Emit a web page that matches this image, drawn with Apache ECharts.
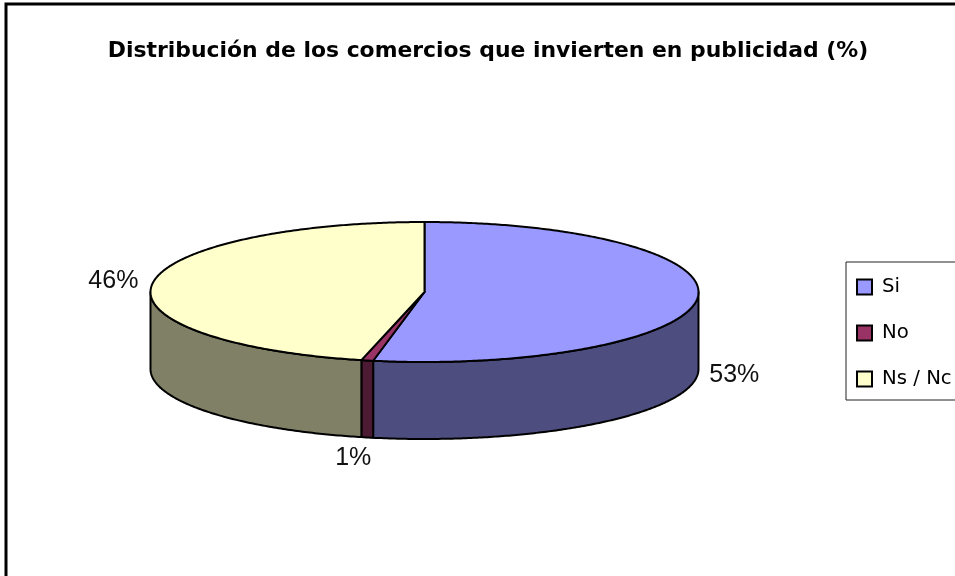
<!DOCTYPE html>
<html><head><meta charset="utf-8">
<style>html,body{margin:0;padding:0;background:#fff}#c{width:955px;height:576px}</style>
<script src="https://cdn.jsdelivr.net/npm/echarts@6/dist/echarts.min.js"></script>
</head><body><div id="c"></div>
<script>
const categories = ['Si', 'No', 'Ns / Nc'];
const values = [53.0, 0.7, 46.3];
const titleText = 'Distribución de los comercios que invierten en publicidad (%)';
const topColors = ['#9999FF', '#993366', '#FFFFCC'];
const wallColors = ['#4D4D80', '#4D1A33', '#808066'];
const labelOffsets = [[37, 0], [-14, 21], [-39, -3]];
const pie = { cx: 424.5, cy: 292, rx: 274, ry: 70, depth: 77 };
const total = values.reduce((a, b) => a + b, 0);

function pt(theta, dy) {
  return [pie.cx + pie.rx * Math.sin(theta), pie.cy - pie.ry * Math.cos(theta) + (dy || 0)];
}
function arc(a, b, dy) {
  const n = Math.max(2, Math.ceil(Math.abs(b - a) / 0.01));
  const out = [];
  for (let i = 0; i <= n; i++) out.push(pt(a + (b - a) * i / n, dy));
  return out;
}
function renderer(index) {
  return function (params, api) {
    const before = values.slice(0, index).reduce((a, b) => a + b, 0);
    const start = before / total * 2 * Math.PI;
    const end = (before + api.value(0)) / total * 2 * Math.PI;
    const children = [];
    const a = Math.max(start, Math.PI / 2), b = Math.min(end, 3 * Math.PI / 2);
    if (b > a) {
      children.push({
        type: 'polygon',
        shape: { points: arc(a, b, 0).concat(arc(b, a, pie.depth)) },
        style: { fill: wallColors[index], stroke: '#000', lineWidth: 2, lineJoin: 'round' }
      });
    }
    children.push({
      type: 'polygon',
      shape: { points: [[pie.cx, pie.cy]].concat(arc(start, end, 0)) },
      style: { fill: topColors[index], stroke: '#000', lineWidth: 2, lineJoin: 'round' }
    });
    const mid = (start + end) / 2;
    const anchor = pt(mid, index === 2 ? 0 : pie.depth);
    children.push({
      type: 'text',
      style: {
        text: Math.round(api.value(0)) + '%',
        x: anchor[0] + labelOffsets[index][0],
        y: anchor[1] + labelOffsets[index][1],
        align: 'center', verticalAlign: 'middle',
        font: '25px "Liberation Sans"', fill: '#111'
      }
    });
    return { type: 'group', children };
  };
}
const chart = echarts.init(document.getElementById('c'), null, { renderer: 'canvas' });
chart.setOption({
  animation: false,
  backgroundColor: '#fff',
  title: {
    text: titleText, left: 483, top: 35, textAlign: 'center',
    textStyle: { fontFamily: 'DejaVu Sans', fontWeight: 'bold', fontSize: 21.9, color: '#000' }
  },
  legend: {
    orient: 'vertical', left: 846, top: 262,
    data: categories,
    icon: 'rect', itemWidth: 15, itemHeight: 15, itemGap: 26,
    padding: [15, 20, 11, 10],
    borderColor: '#222', borderWidth: 1,
    selectedMode: false,
    itemStyle: { borderColor: '#000', borderWidth: 2 },
    textStyle: { fontFamily: 'DejaVu Sans', fontSize: 19.7, color: '#000', padding: [0, 0, 0, 5] }
  },
  graphic: [{
    type: 'rect', silent: true, z: -1,
    shape: { x: 6, y: 4, width: 1200, height: 800 },
    style: { fill: 'none', stroke: '#000', lineWidth: 3 }
  }],
  series: categories.map((name, i) => ({
    type: 'custom', name, coordinateSystem: 'none',
    itemStyle: { color: topColors[i] },
    renderItem: renderer(i),
    data: [[values[i]]]
  }))
});
</script></body></html>
